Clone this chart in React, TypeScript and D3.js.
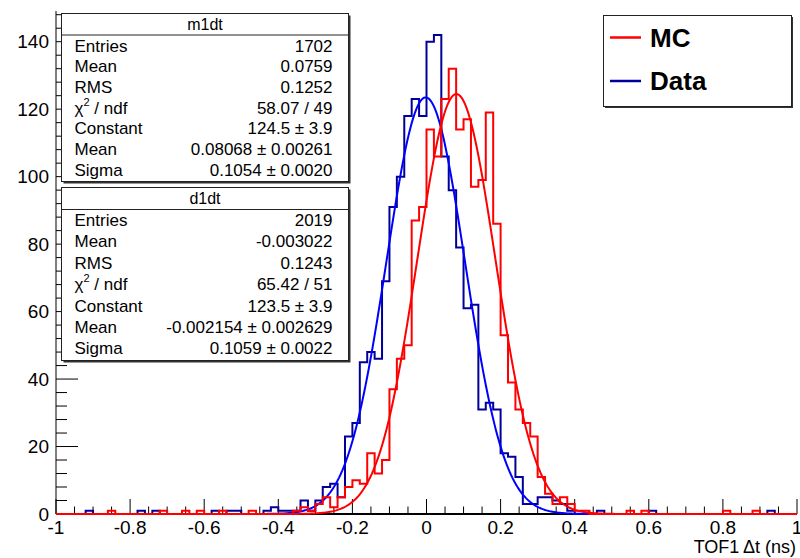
import React, { useEffect, useRef } from "react";
import * as d3 from "d3";

const width = 800,
  height = 558;
const font = "'Liberation Sans', Arial, Helvetica, sans-serif";

// 100 bins of 0.02 between -1 and 1
const binLo = -1,
  binWidth = 0.02;

const dataCounts = [
  0, 0, 0, 0, 1, 0, 0, 0, 0, 0,
  0, 1, 0, 1, 0, 0, 0, 0, 0, 0,
  0, 1, 0, 1, 1, 0, 0, 0, 1, 2,
  1, 1, 1, 4, 1, 4, 8, 9, 5, 23,
  27, 45, 48, 46, 69, 91, 100, 118, 123, 118,
  140, 142, 106, 96, 79, 61, 62, 31, 33, 31,
  18, 17, 11, 3, 3, 5, 5, 4, 3, 1,
  0, 0, 0, 1, 0, 0, 0, 0, 0, 0,
  1, 0, 0, 0, 0, 0, 0, 0, 0, 0,
  0, 0, 0, 0, 0, 0, 1, 0, 0, 0,
];

const mcCounts = [
  0, 0, 0, 0, 0, 0, 0, 1, 0, 0,
  0, 0, 0, 0, 1, 0, 0, 1, 0, 1,
  0, 0, 1, 0, 0, 0, 1, 0, 0, 0,
  0, 0, 1, 2, 1, 3, 5, 2, 5, 8,
  10, 9, 18, 12, 16, 37, 46, 50, 87, 91,
  114, 106, 123, 132, 114, 117, 97, 99, 119, 86,
  53, 39, 31, 27, 23, 11, 6, 3, 5, 3,
  1, 1, 0, 0, 0, 0, 0, 1, 0, 1,
  0, 0, 0, 0, 0, 0, 0, 0, 0, 0,
  1, 0, 0, 0, 1, 0, 0, 0, 0, 0,
];

const mcFit = { constant: 124.5, mean: 0.08068, sigma: 0.1054 };
const dataFit = { constant: 123.5, mean: -0.002154, sigma: 0.1059 };

const mcStatLabels = ["Entries", "Mean", "RMS", "chi2", "Constant", "Mean", "Sigma"];
const mcStatValues = ["1702", "0.0759", "0.1252", "58.07 / 49", "124.5 \u00b1 3.9", "0.08068 \u00b1 0.00261", "0.1054 \u00b1 0.0020"];
const dataStatLabels = ["Entries", "Mean", "RMS", "chi2", "Constant", "Mean", "Sigma"];
const dataStatValues = ["2019", "-0.003022", "0.1243", "65.42 / 51", "123.5 \u00b1 3.9", "-0.002154 \u00b1 0.002629", "0.1059 \u00b1 0.0022"];

const legendLabels = ["MC", "Data"];
const xTickValues = [-1, -0.8, -0.6, -0.4, -0.2, 0, 0.2, 0.4, 0.6, 0.8, 1];
const yTickValues = [0, 20, 40, 60, 80, 100, 120, 140];
const xTitle = "TOF1\u2009\u0394t (ns)";

const red = "#ff0000";
const navy = "#000099";
const blue = "#0000ff";

export default function App() {
  const ref = useRef<SVGSVGElement>(null);

  useEffect(() => {
    const svg = d3.select(ref.current);
    svg.selectAll("*").remove();

    const left = 56,
      right = 797,
      top = 11,
      bottom = 514;

    const x = d3.scaleLinear().domain([-1, 1]).range([left, right]);
    const y = d3.scaleLinear().domain([0, 149.1]).range([bottom, top]);

    svg.append("rect").attr("width", width).attr("height", height).attr("fill", "white");

    // axes
    const ax = svg.append("g").attr("stroke", "black").attr("stroke-width", 1);
    ax.append("line").attr("x1", left).attr("x2", right).attr("y1", bottom).attr("y2", bottom).attr("stroke-width", 2);
    ax.append("line").attr("x1", left).attr("x2", left).attr("y1", top).attr("y2", bottom);

    d3.range(-1, 1.0001, 0.05).forEach((v) => {
      const major = Math.abs(v * 5 - Math.round(v * 5)) < 1e-6;
      ax.append("line")
        .attr("x1", x(v)).attr("x2", x(v))
        .attr("y1", bottom).attr("y2", bottom - (major ? 15 : 7.5));
    });
    d3.range(0, 149, 4).forEach((v) => {
      const major = v % 20 === 0;
      ax.append("line")
        .attr("y1", y(v)).attr("y2", y(v))
        .attr("x1", left).attr("x2", left + (major ? 22 : 11));
    });

    svg.append("g")
      .selectAll("text")
      .data(xTickValues)
      .join("text")
      .attr("x", (d) => x(d))
      .attr("y", 534)
      .attr("text-anchor", "middle")
      .attr("font-family", font)
      .attr("font-size", 19)
      .text((d) => (d === 0 ? "0" : String(d)));

    svg.append("g")
      .selectAll("text")
      .data(yTickValues)
      .join("text")
      .attr("x", 49)
      .attr("y", (d) => y(d))
      .attr("dy", "0.35em")
      .attr("text-anchor", "end")
      .attr("font-family", font)
      .attr("font-size", 19)
      .text((d) => d);

    svg.append("text")
      .attr("x", 796)
      .attr("y", 553)
      .attr("text-anchor", "end")
      .attr("font-family", font)
      .attr("font-size", 18)
      .text(xTitle);

    // histograms and fits
    const stepLine = d3
      .line<[number, number]>()
      .x((d) => x(d[0]))
      .y((d) => y(d[1]))
      .curve(d3.curveStepAfter);

    const histPoints = (counts: number[]): [number, number][] => {
      const pts: [number, number][] = [[binLo, 0]];
      counts.forEach((c, i) => pts.push([binLo + i * binWidth, c]));
      pts.push([binLo + counts.length * binWidth, counts[counts.length - 1]]);
      pts.push([binLo + counts.length * binWidth, 0]);
      return pts;
    };

    const gaus = (p: { constant: number; mean: number; sigma: number }) => {
      const xs = d3.range(-1, 1.0001, 0.004);
      return d3
        .line<number>()
        .x((v) => x(v))
        .y((v) => y(p.constant * Math.exp(-0.5 * ((v - p.mean) / p.sigma) ** 2)))(xs);
    };

    svg.append("path").attr("d", stepLine(histPoints(dataCounts))).attr("fill", "none").attr("stroke", navy).attr("stroke-width", 2);
    svg.append("path").attr("d", gaus(dataFit)).attr("fill", "none").attr("stroke", blue).attr("stroke-width", 2);
    svg.append("path").attr("d", stepLine(histPoints(mcCounts))).attr("fill", "none").attr("stroke", red).attr("stroke-width", 2);
    svg.append("path").attr("d", gaus(mcFit)).attr("fill", "none").attr("stroke", red).attr("stroke-width", 2);

    // stats boxes
    const statsBox = (
      bx: number, by: number, bw: number, bh: number, sepY: number,
      title: string, labels: string[], values: string[], row0: number, rowStep: number
    ) => {
      const g = svg.append("g").attr("font-family", font);
      g.append("rect").attr("x", bx + 2).attr("y", by + 2).attr("width", bw).attr("height", bh).attr("fill", "#333");
      g.append("rect").attr("x", bx).attr("y", by).attr("width", bw).attr("height", bh).attr("fill", "white").attr("stroke", "#222").attr("stroke-width", 1);
      g.append("line").attr("x1", bx).attr("x2", bx + bw).attr("y1", sepY).attr("y2", sepY).attr("stroke", "#222");
      g.append("text").attr("x", bx + bw / 2).attr("y", (by + sepY) / 2).attr("dy", "0.35em")
        .attr("text-anchor", "middle").attr("font-size", 16).text(title);
      labels.forEach((l, i) => {
        const t = g.append("text").attr("x", bx + 13).attr("y", row0 + i * rowStep).attr("dy", "0.35em").attr("font-size", 17);
        if (l === "chi2") {
          t.append("tspan").text("\u03c7");
          t.append("tspan").attr("font-size", 11).attr("dy", "-0.75em").text("2");
          t.append("tspan").attr("dy", "0.5em").text(" / ndf");
        } else t.text(l);
        g.append("text").attr("x", bx + bw - 16).attr("y", row0 + i * rowStep).attr("dy", "0.35em")
          .attr("text-anchor", "end").attr("font-size", 17).text(values[i]);
      });
    };

    statsBox(61.5, 13.5, 287, 168, 35, "m1dt", mcStatLabels, mcStatValues, 45.7, 20.7);
    statsBox(61.5, 187.5, 287, 173, 209.5, "d1dt", dataStatLabels, dataStatValues, 220, 21.4);

    // legend
    const lg = svg.append("g").attr("font-family", font);
    lg.append("rect").attr("x", 605).attr("y", 17).attr("width", 188).attr("height", 91).attr("fill", "#333");
    lg.append("rect").attr("x", 603.5).attr("y", 15.5).attr("width", 188).attr("height", 91).attr("fill", "white").attr("stroke", "#222");
    [red, navy].forEach((c, i) => {
      const cy = 37.5 + i * 43.5;
      lg.append("line").attr("x1", 610).attr("x2", 641).attr("y1", cy).attr("y2", cy).attr("stroke", c).attr("stroke-width", 2.5);
      lg.append("text").attr("x", 650).attr("y", cy).attr("dy", "0.36em").attr("font-size", 26).attr("font-weight", "bold").text(legendLabels[i]);
    });
  }, []);

  return (
    <svg
      ref={ref}
      width={width}
      height={height}
      style={{ position: "absolute", left: 0, top: 0, display: "block" }}
    />
  );
}
